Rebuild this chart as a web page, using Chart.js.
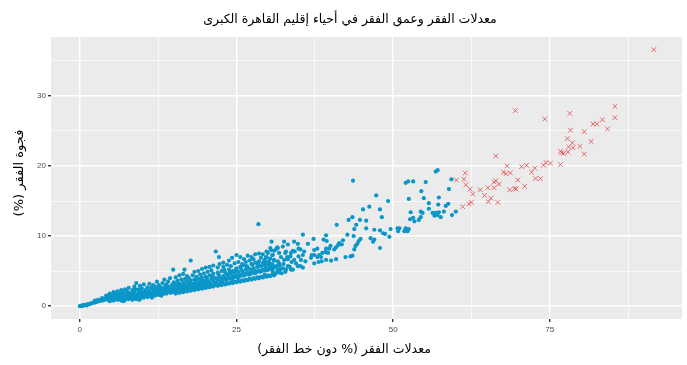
<!DOCTYPE html>
<html>
<head>
	<meta charset="UTF-8">
	<title>poverty scatter</title>
	<script src="https://cdn.jsdelivr.net/npm/chart.js"></script>
	<style>
	body{margin:0; background:#fff;}
	canvas{display:block;}
	</style>
</head>
<body>
	<canvas id="myChart" width="687" height="365"></canvas>
	<script>
	const chartTitle = 'معدلات الفقر وعمق الفقر في أحياء إقليم القاهرة الكبرى';
	const xTitle = 'معدلات الفقر (% دون خط الفقر)';
	const yTitle = 'فجوة الفقر (%)';
	const xTicks = [0, 12.5, 25, 37.5, 50, 62.5, 75, 87.5];
	const yTicks = [0, 5, 10, 15, 20, 25, 30, 35];

	// [poverty rate, poverty gap] - neighbourhoods under ~60%
	const bluePoints = [
		[0,0],[0.2,0.05],[0.3,0],[0.4,0.1],[0.6,0.1],[0.8,0.15],[1.0,0.2],[1.1,0.1],[1.2,0.25],[1.4,0.3],[1.6,0.3],[1.8,0.4],
		[2.0,0.45],[2.2,0.5],[2.4,0.55],[2.4,0.8],[2.6,0.6],[2.8,0.65],[2.9,0.9],[3.0,0.7],[3.2,0.75],[3.4,0.9],[3.5,1.1],
		[3.6,0.8],[3.7,1.1],[3.8,1.0],[4.0,0.9],[4.2,1.5],[4.3,1.1],
		[4.5,0.9],[4.5,1.5],[4.8,1.2],[4.8,1.8],[4.8,0.7],[5.1,1.0],[5.1,1.6],[5.4,0.8],[5.4,1.3],[5.4,2.0],[5.7,1.1],[5.7,1.7],
		[6.0,0.9],[6.0,1.4],[6.0,2.1],[6.3,1.2],[6.3,1.8],[6.6,0.8],[6.6,1.5],[6.6,2.3],[6.9,1.1],[6.9,1.9],[7.0,0.7],
		[7.2,0.9],[7.2,1.4],[7.2,2.4],[7.5,1.2],[7.5,1.7],[7.5,2.1],[7.8,1.0],[7.8,1.5],[7.8,2.6],[8.1,1.3],[8.1,1.9],
		[8.4,0.9],[8.4,1.6],[8.4,2.3],[8.7,1.2],[8.7,2.0],[8.7,2.8],[9.0,1.0],[9.0,1.5],[9.0,3.3],[9.3,1.3],[9.3,1.8],[9.3,2.4],
		[9.5,0.9],[9.6,1.1],[9.6,2.1],[9.6,2.9],[9.9,1.4],[9.9,1.7],[9.9,2.5],[10.2,1.2],[10.2,2.0],[10.2,3.1],[10.5,1.5],[10.5,2.3],
		[10.8,1.3],[10.8,1.8],[10.8,2.7],[11.1,1.6],[11.1,2.2],[11.1,3.2],[11.4,1.4],[11.4,1.9],[11.4,2.6],[11.5,1.2],
		[11.7,1.7],[11.7,2.4],[11.7,3.0],[12.0,1.5],[12.0,2.1],[12.0,2.8],[12.3,1.8],[12.3,2.5],[12.3,3.5],[12.6,1.6],[12.6,2.2],[12.6,3.0],
		[12.9,1.9],[12.9,2.7],[13.0,1.5],[13.2,1.7],[13.2,2.3],[13.2,3.3],[13.5,2.0],[13.5,2.6],[13.5,3.8],[13.8,1.8],[13.8,2.4],[13.8,3.1],
		[14.1,2.1],[14.1,2.8],[14.1,3.5],[14.4,1.9],[14.4,2.5],[14.4,4.0],[14.7,2.2],[14.7,3.0],[14.9,5.2],[15.0,2.0],[15.0,2.7],[15.0,3.4],
		[15.3,1.8],[15.3,2.4],[15.3,3.1],[15.3,4.1],[15.6,2.0],[15.6,2.7],[15.6,3.6],[15.9,1.9],[15.9,2.5],[15.9,3.2],[15.9,4.4],
		[16.2,2.1],[16.2,2.9],[16.2,3.8],[16.5,2.0],[16.5,2.6],[16.5,3.4],[16.5,4.6],[16.7,5.2],[16.8,2.2],[16.8,3.0],[16.8,3.9],
		[17.1,2.1],[17.1,2.8],[17.1,3.5],[17.1,4.3],[17.4,2.3],[17.4,3.1],[17.4,4.0],[17.7,2.2],[17.7,2.9],[17.7,3.7],[17.7,6.5],
		[18.0,2.4],[18.0,3.2],[18.0,4.4],[18.3,2.3],[18.3,3.0],[18.3,3.8],[18.3,4.9],[18.6,2.5],[18.6,3.4],[18.6,4.2],
		[18.9,2.4],[18.9,3.1],[18.9,3.9],[18.9,5.0],[19.2,2.6],[19.2,3.5],[19.2,4.5],[19.5,2.5],[19.5,3.2],[19.5,4.1],[19.5,5.3],
		[19.8,2.7],[19.8,3.6],[19.8,4.7],[20.1,2.6],[20.1,3.3],[20.1,4.2],[20.1,5.5],[20.4,2.8],[20.4,3.7],[20.4,4.9],
		[20.7,2.7],[20.7,3.4],[20.7,4.4],[20.7,5.6],[21.0,2.9],[21.0,3.9],[21.0,5.1],[21.3,2.8],[21.3,3.6],[21.3,4.6],[21.3,5.8],
		[21.7,7.8],[21.7,3.0],[21.7,4.0],[22.0,2.9],[22.0,3.8],[22.0,4.8],[22.0,5.5],[22.2,7.0],[22.3,3.1],[22.3,4.2],[22.3,6.0],
		[22.6,3.0],[22.6,3.9],[22.6,5.0],[22.9,3.2],[22.9,4.3],[22.9,5.6],[22.9,6.2],[23.2,3.1],[23.2,4.0],[23.2,4.8],
		[23.5,3.3],[23.5,4.5],[23.5,5.9],[23.8,3.2],[23.8,4.1],[23.8,5.2],[23.8,6.5],[24.1,3.4],[24.1,4.6],[24.1,5.7],[24.3,6.9],
		[24.4,3.3],[24.4,4.3],[24.4,5.0],[24.7,3.5],[24.7,4.8],[24.7,6.1],[25.0,3.4],[25.0,4.4],[25.0,5.4],[25.0,7.3],
		[25.3,3.6],[25.3,4.9],[25.3,6.3],[25.6,3.5],[25.6,4.5],[25.6,5.6],[25.6,7.0],[25.9,3.7],[25.9,5.0],[25.9,6.0],
		[26.2,3.6],[26.2,4.7],[26.2,5.8],[26.2,6.7],[26.5,3.8],[26.5,5.2],[26.5,6.3],[26.8,3.7],[26.8,4.8],[26.8,5.5],[26.8,7.2],
		[27.1,3.9],[27.1,5.3],[27.1,6.5],[27.4,3.8],[27.4,4.9],[27.4,6.0],[27.4,7.0],[27.7,4.0],[27.7,5.4],[27.7,6.7],
		[28.0,3.9],[28.0,5.0],[28.0,6.2],[28.0,7.4],[28.3,4.1],[28.3,5.6],[28.5,11.7],[28.6,4.0],[28.6,5.1],[28.6,6.4],[28.6,7.5],
		[28.9,4.2],[28.9,5.7],[28.9,6.9],[29.2,4.1],[29.2,5.2],[29.2,6.1],[29.2,7.4],[29.5,4.3],[29.5,5.8],[29.5,6.6],
		[29.8,4.2],[29.8,5.4],[29.8,7.0],[29.8,7.8],[30.1,4.4],[30.1,5.9],[30.1,6.3],[30.4,4.3],[30.4,5.5],[30.4,6.8],[30.4,8.3],
		[30.6,9.2],[30.7,4.5],[30.7,6.0],[30.7,7.3],[31.0,4.4],[31.0,5.6],[31.0,6.5],[31.0,7.9],
		[5.25,1.15],[5.9,1.25],[6.45,1.05],[6.75,1.75],[7.35,1.15],[7.65,1.95],[8.25,1.1],[8.55,1.45],[8.85,2.35],[9.15,1.2],
		[9.45,2.05],[9.75,1.55],[10.05,1.35],[10.35,1.75],[10.65,2.0],[10.95,1.5],[11.25,1.95],[11.55,2.75],[11.85,1.6],[12.15,2.35],
		[12.45,1.7],[12.75,2.5],[13.05,2.05],[13.35,1.8],[13.65,2.85],[13.95,2.2],[14.25,2.45],[14.55,1.95],[14.85,2.6],[15.15,2.25],
		[15.45,2.1],[15.75,3.0],[16.05,2.35],[16.35,2.3],[16.65,2.95],[16.95,2.45],[17.25,2.6],[17.55,3.3],[17.85,2.6],[18.15,2.75],
		[18.45,3.55],[18.75,2.7],[19.05,2.85],[19.35,3.8],[19.65,2.95],[19.95,3.05],[20.25,4.0],[20.55,3.1],[20.85,3.2],[21.15,4.25],
		[21.45,3.3],[21.85,3.45],[22.15,4.5],[22.45,3.5],[22.75,3.6],[23.05,5.2],[23.35,3.7],[23.65,3.9],[23.95,4.8],[24.25,3.85],
		[24.55,4.1],[24.85,5.1],[25.15,4.05],[25.45,4.2],[25.75,5.3],[26.05,4.35],[26.35,4.45],[26.65,5.7],[26.95,4.5],[27.25,4.6],
		[27.55,5.9],[27.85,4.7],[28.15,4.8],[28.45,6.0],[28.75,4.9],[29.05,5.0],[29.35,6.3],[29.65,5.1],[29.95,5.2],[30.25,6.1],
		[30.55,5.3],[30.85,5.4],
		[29.5,6.4],[29.5,4.5],[29.7,7.0],[29.7,5.4],[29.9,6.1],[30.0,7.6],[30.0,4.3],[30.1,5.2],[30.3,6.7],[30.5,8.0],[30.5,5.9],
		[30.8,7.3],[30.8,4.9],[31.0,6.6],[31.3,5.7],[31.2,4.6],[31.5,5.0],[31.8,4.8],[32.1,5.3],[31.4,5.6],[32.2,4.7],[31.9,5.8],
		[32.5,6.0],[31.6,6.4],[32.8,4.9],[33.5,5.6],[33.8,6.3],[34.0,5.2],
		[31.6,8.3],[31.5,8.4],[32.6,9.2],[33.2,8.8],[32.4,8.5],[32.9,7.8],[32.8,7.6],[33.1,7.0],[33.2,6.7],[32.6,6.6],[32.1,7.0],
		[31.8,7.6],[31.3,8.1],[31.8,6.1],[32.4,5.4],[32.9,5.2],[31.8,5.2],[33.7,5.2],[33.2,5.7],
		[34.2,9.2],[34.8,8.9],[34.9,8.2],[35.2,8.1],[34.3,7.8],[34.0,7.9],[33.7,7.6],[33.6,7.1],[34.2,6.6],[34.5,6.1],[34.8,5.7],
		[35.6,10.2],[35.8,7.8],[35.6,7.3],[36.0,6.4],[35.3,6.6],[35.2,5.7],[35.6,5.5],[34.9,7.1],[36.4,8.9],[36.9,6.9],
		[37.4,8.0],[37.9,7.0],[38.7,7.6],[37.4,6.1],
		[37.3,9.6],[37.9,8.2],[37.4,7.3],[37.0,7.3],[38.5,7.0],[38.2,7.3],[38.6,6.4],[38.1,6.3],[39.3,6.6],
		[39.3,10.1],[38.9,9.5],[39.4,9.3],[39.3,8.2],[39.2,7.7],[39.6,7.6],[40.0,8.6],[39.8,8.2],[40.9,6.7],[40.1,6.5],
		[41.0,11.6],[41.4,9.0],[41.8,8.8],[41.2,8.7],[40.9,8.4],[40.6,8.1],[42.0,9.4],
		[42.7,10.2],[43.7,10.0],[44.8,9.6],[44.5,9.3],[44.3,8.9],[44.0,8.6],[43.8,8.1],[43.2,7.1],[43.5,7.2],[42.4,7.0],
		[43.6,17.9],[47.3,15.8],[49.2,15.0],[46.2,14.2],[45.2,13.8],[47.9,13.8],[48.2,12.7],[43.5,12.7],[42.9,12.3],[44.7,12.3],
		[44.1,11.6],[45.7,12.2],[43.8,11.0],[45.7,11.1],[47.0,10.9],[47.9,10.8],[48.4,10.4],[48.7,10.3],[49.6,11.0],[50.7,11.1],
		[49.4,9.9],[46.4,9.7],[47.0,9.5],[46.8,9.2],[47.9,8.3],
		[56.8,19.2],[57.1,19.4],[52.0,17.6],[52.4,17.8],[53.2,17.8],[55.2,17.7],[58.9,16.7],[54.5,16.4],[52.5,15.3],[54.9,15.4],
		[57.3,15.5],[55.7,14.7],[57.2,14.5],[58.4,14.3],[58.8,14.6],[54.4,13.5],[54.7,13.3],[52.8,13.4],[56.3,13.3],[56.8,13.3],
		[56.6,12.9],[57.1,13.0],[57.3,13.4],[57.6,12.7],[58.1,13.5],[55.7,13.9],[59.4,13.0],[60.0,13.5],[53.2,12.6],[53.4,12.1],
		[54.1,12.3],[54.4,12.7],[52.7,12.4],[52.0,11.1],[52.3,10.7],[51.8,10.7],[52.5,11.0],[51.0,11.1],[50.8,10.7],[59.3,18.1]
	];

	// [poverty rate, poverty gap] - neighbourhoods above ~60%
	const redPoints = [
		[91.6,36.6],[69.5,27.9],[74.2,26.7],[78.2,27.5],[85.4,28.5],[85.4,26.9],[83.4,26.6],[81.9,26.0],[82.5,26.0],[84.2,25.3],
		[78.3,25.1],[80.5,24.9],[77.8,23.9],[78.6,23.3],[81.6,23.5],[78.0,22.7],[78.7,22.6],[79.8,22.8],[76.7,22.1],[76.9,21.9],
		[77.2,21.8],[77.9,22.0],[80.5,21.7],[66.4,21.4],[68.2,20.0],[70.5,19.9],[71.3,20.1],[72.6,19.7],[74.0,20.1],[74.4,20.5],
		[75.1,20.4],[76.7,20.2],[61.5,19.0],[67.6,19.1],[68.0,18.9],[68.7,19.0],[72.1,19.1],[72.7,18.2],[73.5,18.2],[61.3,18.1],
		[69.9,18.0],[60.1,18.0],[61.6,17.3],[62.3,16.7],[62.7,16.0],[63.9,16.6],[65.1,16.9],[64.6,15.8],[65.6,15.4],[65.2,14.9],
		[66.7,14.8],[66.1,17.7],[66.4,17.9],[66.9,17.4],[66.1,16.9],[68.6,16.6],[69.4,16.8],[69.6,16.7],[71.0,17.1],[61.1,14.2],
		[62.1,14.6],[62.5,14.8]
	];

	function toXY(list){
		return list.map(function(p){ return {x: p[0], y: p[1]}; });
	}

	// grey panel like ggplot
	const panelBg = {
		id: 'panelBg',
		beforeDraw: function(chart){
			const c = chart.ctx, a = chart.chartArea;
			c.save();
			c.fillStyle = '#fff';
			c.fillRect(0, 0, chart.width, chart.height);
			c.fillStyle = '#EBEBEB';
			c.fillRect(a.left, a.top, a.right - a.left, a.bottom - a.top);
			c.restore();
		}
	};

	// arabic titles
	const arabicText = {
		id: 'arabicText',
		afterDraw: function(chart){
			const c = chart.ctx;
			c.save();
			c.fillStyle = '#000';
			c.direction = 'rtl';
			c.textAlign = 'center';
			c.textBaseline = 'middle';
			c.font = '12.5px "DejaVu Sans"';
			c.fillText(chartTitle, 350, 20);
			c.fillText(xTitle, 344, 350);
			c.font = '13px "DejaVu Sans"';
			c.translate(20, 173);
			c.rotate(-Math.PI / 2);
			c.fillText(yTitle, 0, 0);
			c.restore();
		}
	};

	function isMajor(v, step){ return Math.abs(v % step) < 1e-9; }

	const ctx = document.getElementById('myChart');
	new Chart(ctx, {
		type: 'scatter',
		data: {
			datasets: [{
				data: toXY(bluePoints),
				backgroundColor: '#0A96C8',
				borderWidth: 0,
				pointRadius: 2.1
			}, {
				data: toXY(redPoints),
				pointStyle: 'crossRot',
				borderColor: 'rgba(226, 72, 76, 0.8)',
				backgroundColor: 'rgba(226, 72, 76, 0.8)',
				borderWidth: 1,
				pointRadius: 3.3
			}]
		},
		options: {
			responsive: false,
			animation: false,
			devicePixelRatio: 1,
			layout: { padding: { top: 37, right: 4, left: 0, bottom: 0 } },
			plugins: { legend: { display: false }, tooltip: { enabled: false } },
			scales: {
				x: {
					type: 'linear',
					min: -4.6,
					max: 96.1,
					afterBuildTicks: function(s){ s.ticks = xTicks.map(function(v){ return {value: v}; }); },
					afterFit: function(s){ s.height = 46; },
					border: { display: false },
					grid: {
						color: '#fff',
						lineWidth: function(c){ return isMajor(c.tick.value, 25) ? 1.4 : 0.7; },
						tickColor: function(c){ return isMajor(c.tick.value, 25) ? '#333' : 'rgba(0,0,0,0)'; },
						tickLength: 3
					},
					ticks: {
						autoSkip: false,
						maxRotation: 0,
						padding: 3,
						color: '#4D4D4D',
						font: { family: 'Liberation Sans', size: 8 },
						callback: function(v){ return isMajor(v, 25) ? v : ''; }
					}
				},
				y: {
					type: 'linear',
					min: -1.83,
					max: 38.4,
					afterBuildTicks: function(s){ s.ticks = yTicks.map(function(v){ return {value: v}; }); },
					afterFit: function(s){ s.width = 51; },
					border: { display: false },
					grid: {
						color: '#fff',
						lineWidth: function(c){ return isMajor(c.tick.value, 10) ? 1.4 : 0.7; },
						tickColor: function(c){ return isMajor(c.tick.value, 10) ? '#333' : 'rgba(0,0,0,0)'; },
						tickLength: 3
					},
					ticks: {
						autoSkip: false,
						padding: 2,
						color: '#4D4D4D',
						font: { family: 'Liberation Sans', size: 8 },
						callback: function(v){ return isMajor(v, 10) ? v : ''; }
					}
				}
			}
		},
		plugins: [panelBg, arabicText]
	});
	</script>
</body>
</html>
